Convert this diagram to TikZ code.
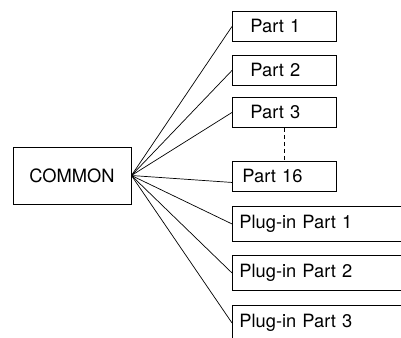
\documentclass[tikz,border=0pt]{standalone}
\usepackage{fontspec}
\setmainfont{TeX Gyre Heros}
\tikzset{
    commonbox/.style={draw, minimum width=118, minimum height=57},
    partbox/.style 2 args={draw, anchor=north west, minimum height=#2, inner xsep=#1, align=left}
}
\begin{document}
\begin{tikzpicture}[x=1pt,y=-1pt,line width=0.9pt,font=\fontsize{18.3}{22}\selectfont]
        \useasboundingbox (0,0) rectangle (401,337);
        \clip (0,0) rectangle (401,337);
        \node[commonbox] (common) at (72,175.5) {COMMON};
        % the parts
        \foreach \n/\y/\pad/\tw/\txt in {p1/11/18/68/Part 1,p2/55/18/68/Part 2,p3/97/18/68/Part 3,p16/161/10/84/Part 16} {
            \node[partbox={\pad}{30}, text width=\tw] (\n) at (232,\y) {\txt};
        }
        \foreach \n/\y/\txt in {pi1/206/Plug-in Part 1,pi2/255/Plug-in Part 2,pi3/305/Plug-in Part 3} {
            \node[partbox={7}{35}, text width=166] (\n) at (232,\y) {\txt};
        }
        \draw[dash pattern=on 4pt off 3pt] (p3.south) -- (p16.north);
        \foreach \n in {p1,p2,p3,pi1,pi2,pi3} {
            \draw[line width=0.7pt] (common.east) -- (\n.west);
        }
        \draw[line width=0.7pt] (common.east) -- ([yshift=-6pt]p16.west);
    \end{tikzpicture}
\end{document}
